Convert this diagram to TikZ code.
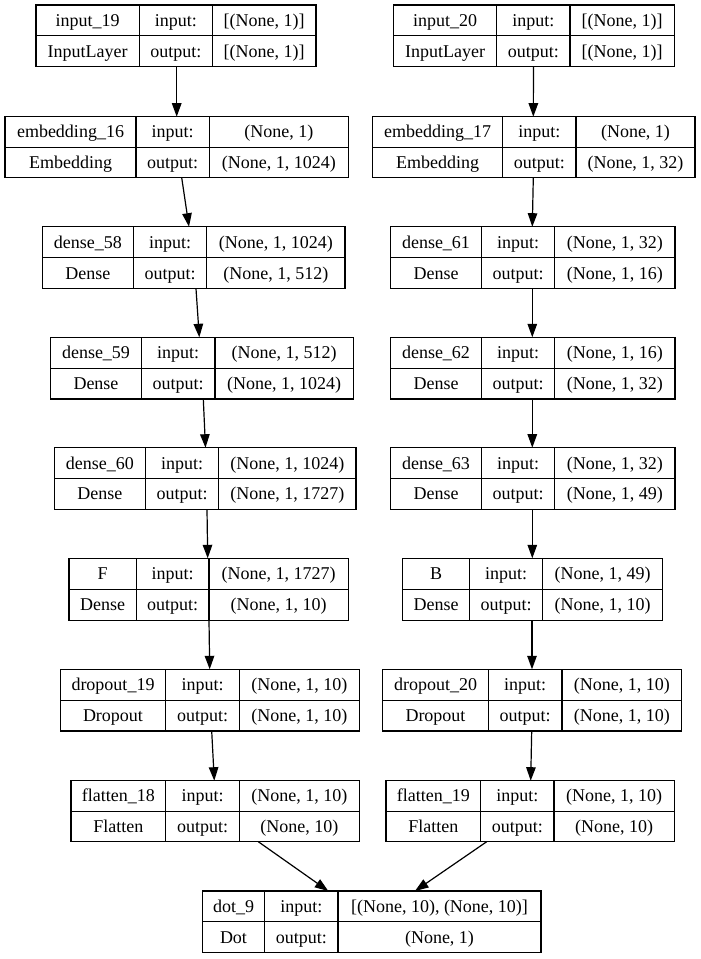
\documentclass[tikz,border=0pt]{standalone}
\usepackage{fontspec}
\setmainfont{Liberation Serif}
\usetikzlibrary{arrows.meta}

\tikzset{
  layerframe/.style={draw=black, line width=1.2pt, inner sep=0pt, outer sep=0pt},
  divider/.style={draw=black, line width=1.2pt},
  celltext/.style={anchor=base, inner sep=0pt, font=\fontsize{18}{20}\selectfont},
  flow/.style={draw=black, line width=1.2pt, -{Triangle[length=13.5pt,width=9.5pt]}},
}

% #1 name, #2 left x, #3 first divider, #4 second divider, #5 right x, #6 top y, #7 bottom y
\newcommand\kbox[7]{%
  \node[layerframe, minimum width={(#5-#2)*1pt}, minimum height={(#7-#6)*1pt}]
    (#1) at ({(#2+#5)/2},{(#6+#7)/2}) {};
  \draw[divider] (#3,#6) -- (#3,#7);
  \draw[divider] (#4,#6) -- (#4,#7);
  \draw[divider] (#2,{(#6+#7)/2}) -- (#5,{(#6+#7)/2});
  \coordinate (#1-ta) at ({(#2+#3)/2},{(3*#6+#7)/4+6});
  \coordinate (#1-tb) at ({(#3+#4)/2},{(3*#6+#7)/4+6});
  \coordinate (#1-tc) at ({(#4+#5)/2},{(3*#6+#7)/4+6});
  \coordinate (#1-ba) at ({(#2+#3)/2},{(#6+3*#7)/4+6});
  \coordinate (#1-bb) at ({(#3+#4)/2},{(#6+3*#7)/4+6});
  \coordinate (#1-bc) at ({(#4+#5)/2},{(#6+3*#7)/4+6});
}
% #1 name, #2 layer name, #3 layer class, #4 input shape, #5 output shape
\newcommand\kcells[5]{%
  \node[celltext] (#1-name)  at (#1-ta) {#2};
  \node[celltext] (#1-class) at (#1-ba) {#3};
  \node[celltext] (#1-inl)   at (#1-tb) {input:};
  \node[celltext] (#1-outl)  at (#1-bb) {output:};
  \node[celltext] (#1-in)    at (#1-tc) {#4};
  \node[celltext] (#1-out)   at (#1-bc) {#5};
}

\begin{document}
\begin{tikzpicture}[x=1pt, y=-1pt]
\fill[white] (0,0) rectangle (701,959);
\useasboundingbox (0,0) rectangle (701,959);

% left branch
\kbox{in19}{36}{139.3}{212.3}{316}{5}{66.7}
\kcells{in19}{input\_19}{InputLayer}{[(None, 1)]}{[(None, 1)]}
\kbox{emb16}{5}{136}{209.3}{348.3}{116.7}{177.7}
\kcells{emb16}{embedding\_16}{Embedding}{(None, 1)}{(None, 1, 1024)}
\kbox{d58}{42.3}{133.3}{206.7}{345}{226.7}{288.7}
\kcells{d58}{dense\_58}{Dense}{(None, 1, 1024)}{(None, 1, 512)}
\kbox{d59}{50.7}{141.3}{215}{353.3}{337.3}{399}
\kcells{d59}{dense\_59}{Dense}{(None, 1, 512)}{(None, 1, 1024)}
\kbox{d60}{54.3}{145.3}{218.7}{356}{447.7}{509.3}
\kcells{d60}{dense\_60}{Dense}{(None, 1, 1024)}{(None, 1, 1727)}
\kbox{F}{69}{136.3}{209}{348.3}{558.3}{620.3}
\kcells{F}{F}{Dense}{(None, 1, 1727)}{(None, 1, 10)}
\kbox{do19}{60.3}{165.7}{239.3}{359.3}{669.3}{731}
\kcells{do19}{dropout\_19}{Dropout}{(None, 1, 10)}{(None, 1, 10)}
\kbox{fl18}{71}{165.7}{239.3}{359.3}{780.7}{841.7}
\kcells{fl18}{flatten\_18}{Flatten}{(None, 1, 10)}{(None, 10)}

% right branch
\kbox{in20}{393.3}{496.7}{570}{674.3}{5}{66.7}
\kcells{in20}{input\_20}{InputLayer}{[(None, 1)]}{[(None, 1)]}
\kbox{emb17}{372.3}{502.7}{576}{695}{116.7}{177.7}
\kcells{emb17}{embedding\_17}{Embedding}{(None, 1)}{(None, 1, 32)}
\kbox{d61}{390.7}{481.3}{554.7}{675}{226.7}{288.7}
\kcells{d61}{dense\_61}{Dense}{(None, 1, 32)}{(None, 1, 16)}
\kbox{d62}{390.7}{481.3}{554.7}{675}{337.3}{399}
\kcells{d62}{dense\_62}{Dense}{(None, 1, 16)}{(None, 1, 32)}
\kbox{d63}{390.7}{481.3}{554.7}{675}{447.7}{509.3}
\kcells{d63}{dense\_63}{Dense}{(None, 1, 32)}{(None, 1, 49)}
\kbox{B}{402.7}{469.3}{542.7}{662.7}{558.3}{620.3}
\kcells{B}{B}{Dense}{(None, 1, 49)}{(None, 1, 10)}
\kbox{do20}{382.7}{488.3}{562}{681.7}{669.3}{731}
\kcells{do20}{dropout\_20}{Dropout}{(None, 1, 10)}{(None, 1, 10)}
\kbox{fl19}{386}{480.7}{554}{674.3}{780.7}{841.7}
\kcells{fl19}{flatten\_19}{Flatten}{(None, 1, 10)}{(None, 10)}

% merge
\kbox{dot9}{202.3}{264.7}{338}{541}{891}{952.7}
\kcells{dot9}{dot\_9}{Dot}{[(None, 10), (None, 10)]}{(None, 1)}

% connectors, left branch
\draw[flow] (in19.south -| 176.7,0) -- (emb16.north -| 176.7,0);
\draw[flow] (emb16.south -| 181.7,0) -- (d58.north -| 189,0);
\draw[flow] (d58.south -| 196,0) -- (d59.north -| 199.3,0);
\draw[flow] (d59.south -| 203.3,0) -- (d60.north -| 205.5,0);
\draw[flow] (d60.south -| 207,0) -- (F.north -| 207.7,0);
\draw[flow] (F.south -| 209,0) -- (do19.north -| 209.7,0);
\draw[flow] (do19.south -| 211.7,0) -- (fl18.north -| 214.3,0);
\draw[flow] (fl18.south -| 258.3,0) -- (dot9.north -| 328.3,0);

% connectors, right branch
\draw[flow] (in20.south -| 533.5,0) -- (emb17.north -| 533.3,0);
\draw[flow] (emb17.south -| 533.3,0) -- (d61.north -| 532.3,0);
\draw[flow] (d61.south -| 532.3,0) -- (d62.north -| 532.3,0);
\draw[flow] (d62.south -| 532.3,0) -- (d63.north -| 532.3,0);
\draw[flow] (d63.south -| 532.3,0) -- (B.north -| 532.3,0);
\draw[flow] (B.south -| 532,0) -- (do20.north -| 532,0);
\draw[flow] (do20.south -| 531.7,0) -- (fl19.north -| 530.7,0);
\draw[flow] (fl19.south -| 486.7,0) -- (dot9.north -| 415,0);
\end{tikzpicture}
\end{document}
